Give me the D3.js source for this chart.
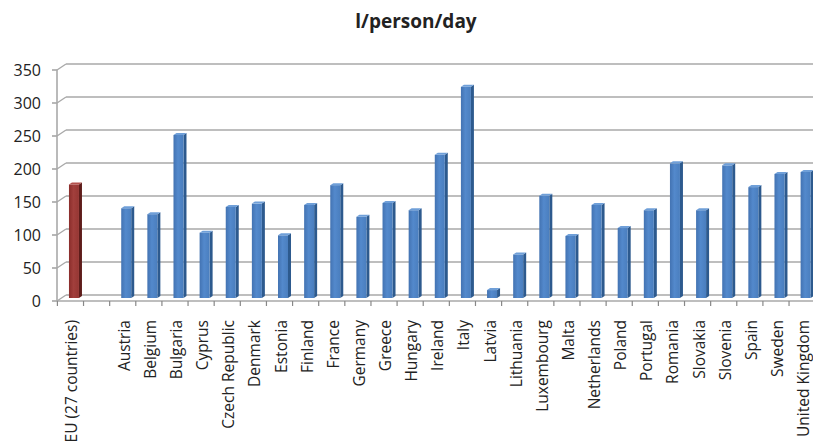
<!DOCTYPE html>
<html>
<head>
<meta charset="utf-8">
<script src="https://cdn.jsdelivr.net/npm/d3@7"></script>
<style>
  html, body { margin: 0; padding: 0; background: #fff; }
  svg { display: block; }
  text { font-family: "Open Sans", "DejaVu Sans", sans-serif; fill: #222; }
</style>
</head>
<body>
<svg id="chart" width="813" height="446"></svg>
<script>
const title = "l/person/day";
const categories = ["EU (27 countries)", "", "Austria", "Belgium", "Bulgaria", "Cyprus", "Czech Republic",
  "Denmark", "Estonia", "Finland", "France", "Germany", "Greece", "Hungary", "Ireland", "Italy",
  "Latvia", "Lithuania", "Luxembourg", "Malta", "Netherlands", "Poland", "Portugal", "Romania",
  "Slovakia", "Slovenia", "Spain", "Sweden", "United Kingdom"];
const values = [172, null, 136, 127, 247, 99, 138, 143, 95, 141, 171, 123, 144, 133, 217, 320,
  12, 66, 155, 94, 141, 106, 133, 204, 133, 201, 168, 188, 191];
const highlight = [true, false, false, false, false, false, false, false, false, false, false, false,
  false, false, false, false, false, false, false, false, false, false, false, false, false, false,
  false, false, false];
const yTicks = [0, 50, 100, 150, 200, 250, 300, 350];

const W = 813, H = 446;
const svg = d3.select("#chart");
const defs = svg.append("defs");

function grad(id, stops) {
  const g = defs.append("linearGradient").attr("id", id).attr("x1", "0%").attr("x2", "100%");
  stops.forEach(([o, c]) => g.append("stop").attr("offset", o).attr("stop-color", c));
}
grad("blueFront", [["0%", "#4373b2"], ["45%", "#5389cc"], ["100%", "#4a7ebe"]]);
grad("redFront", [["0%", "#8a2d2b"], ["45%", "#a23f3c"], ["100%", "#953633"]]);

const x0 = 57.4, x1 = x0 + 29 * 26.13;
const x = d3.scaleBand().domain(d3.range(categories.length)).range([x0, x1]).padding(0);
const y = d3.scaleLinear().domain([0, 350]).range([301, 70]);
const dx = 9, dy = -6;          // depth offset of back wall
const grid = "#a9a9a9";

// title
svg.append("text").attr("x", 416).attr("y", 28).attr("text-anchor", "middle")
  .attr("font-weight", "bold").attr("font-size", 19).text(title);

// back wall gridlines + side connectors
const g = svg.append("g");
yTicks.forEach(t => {
  g.append("line").attr("x1", 57 + dx).attr("x2", W + 5).attr("y1", y(t) + dy).attr("y2", y(t) + dy)
    .attr("stroke", grid).attr("stroke-width", 1.6);
  g.append("line").attr("x1", 57).attr("x2", 57 + dx).attr("y1", y(t)).attr("y2", y(t) + dy)
    .attr("stroke", grid).attr("stroke-width", 1.4);
  g.append("line").attr("x1", 52).attr("x2", 57).attr("y1", y(t)).attr("y2", y(t))
    .attr("stroke", "#888").attr("stroke-width", 1.2);
});
// floor front line and vertical axis
g.append("line").attr("x1", 57).attr("x2", W + 5).attr("y1", y(0)).attr("y2", y(0))
  .attr("stroke", grid).attr("stroke-width", 1.6);
g.append("line").attr("x1", 57).attr("x2", 57).attr("y1", y(350)).attr("y2", y(0))
  .attr("stroke", grid).attr("stroke-width", 1.6);
// x ticks
d3.range(categories.length + 1).forEach(i => {
  const xx = i < categories.length ? x(i) : x1;
  g.append("line").attr("x1", xx).attr("x2", xx).attr("y1", y(0)).attr("y2", y(0) + 5)
    .attr("stroke", "#888").attr("stroke-width", 1.2);
});

// y labels
svg.append("g").selectAll("text").data(yTicks).join("text")
  .attr("x", 41).attr("y", d => y(d)).attr("dy", "0.36em").attr("text-anchor", "end")
  .attr("font-size", 16).attr("fill", "#333").text(d => d);

// bars (pseudo 3D)
const fw = 10, sd = 3, su = 2;
const bars = svg.append("g");
values.forEach((v, i) => {
  if (v == null) return;
  const cx = x(i) + x.bandwidth() / 2 + 5;
  const left = cx - 6.5;
  const top = y(v) - 3, bot = y(0) - 3;
  const red = highlight[i];
  bars.append("polygon")
    .attr("points", [[left + fw, top], [left + fw + sd, top - su], [left + fw + sd, bot - su], [left + fw, bot]].join(" "))
    .attr("fill", red ? "#5e1c1a" : "#2d5a8e");
  bars.append("rect").attr("x", left).attr("y", top).attr("width", fw).attr("height", bot - top)
    .attr("fill", red ? "url(#redFront)" : "url(#blueFront)");
  bars.append("polygon")
    .attr("points", [[left, top], [left + sd, top - su], [left + fw + sd, top - su], [left + fw, top]].join(" "))
    .attr("fill", red ? "#b3504c" : "#6f9fd8");
});

// x labels
svg.append("g").selectAll("text").data(categories).join("text")
  .attr("transform", (d, i) => `translate(${x(i) + x.bandwidth() / 2 + 7},320) rotate(-90)`)
  .attr("text-anchor", "end").attr("font-size", 15.5).attr("fill", "#333").text(d => d);
</script>
</body>
</html>
